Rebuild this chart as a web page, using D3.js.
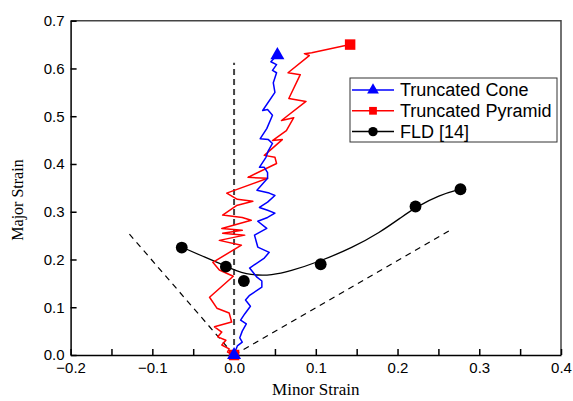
<!DOCTYPE html>
<html>
<head>
<meta charset="utf-8">
<script src="https://cdn.jsdelivr.net/npm/d3@7"></script>
<style>
  body { margin: 0; background: #fff; }
  svg { display: block; }
</style>
</head>
<body>
<svg></svg>
<script>
const width = 573
const height = 401

// minor strain / major strain
const coneMinor = [0, 0.001, 0.002, 0.004, 0.010, 0.007, 0.010, 0.015, 0.008, 0.013, 0.020, 0.014, 0.019,
  0.034, 0.034, 0.028, 0.019, 0.037, 0.043, 0.029, 0.025, 0.040, 0.029, 0.041, 0.050, 0.041, 0.031,
  0.041, 0.050, 0.043, 0.028, 0.041, 0.041, 0.037, 0.031, 0.039, 0.042, 0.047, 0.042, 0.032, 0.040,
  0.047, 0.041, 0.035, 0.050, 0.048, 0.052, 0.047, 0.052, 0.045, 0.053]
const coneMajor = [0, 0.004, 0.010, 0.019, 0.027, 0.036, 0.050, 0.065, 0.073, 0.086, 0.102, 0.115, 0.125,
  0.142, 0.155, 0.163, 0.182, 0.203, 0.215, 0.226, 0.251, 0.265, 0.280, 0.288, 0.297, 0.303, 0.309,
  0.320, 0.334, 0.339, 0.345, 0.370, 0.382, 0.393, 0.393, 0.414, 0.428, 0.443, 0.451, 0.453, 0.474,
  0.502, 0.514, 0.512, 0.550, 0.570, 0.591, 0.596, 0.608, 0.614, 0.628]

const pyramidMinor = [0, -0.008, -0.006, -0.015, -0.010, -0.020, -0.015, -0.024, -0.003, -0.006, -0.021,
  -0.030, -0.001, -0.018, -0.026, 0.009, -0.018, 0.013, -0.014, 0.010, -0.015, 0.021, 0.010, -0.014,
  0.003, 0.023, 0.004, -0.009, 0.041, 0.017, 0.052, 0.050, 0.037, 0.059, 0.047, 0.064, 0.073, 0.058,
  0.088, 0.067, 0.081, 0.066, 0.092, 0.086, 0.095, 0.142]
const pyramidMajor = [0, 0.006, 0.013, 0.021, 0.031, 0.038, 0.048, 0.059, 0.069, 0.088, 0.098, 0.121,
  0.165, 0.178, 0.194, 0.230, 0.240, 0.251, 0.255, 0.261, 0.265, 0.282, 0.288, 0.293, 0.313, 0.322,
  0.326, 0.339, 0.370, 0.372, 0.401, 0.414, 0.418, 0.451, 0.449, 0.470, 0.497, 0.491, 0.531, 0.537,
  0.587, 0.591, 0.627, 0.631, 0.633, 0.650]

const fldMinor = [-0.064, -0.010, 0.012, 0.106, 0.222, 0.277]
const fldMajor = [0.225, 0.185, 0.155, 0.190, 0.311, 0.347]

// fitted FLD curve as drawn
const fitMinor = [-0.064, -0.036, -0.010, 0.003, 0.015, 0.028, 0.045, 0.068, 0.105, 0.145, 0.178, 0.206, 0.222, 0.251, 0.277]
const fitMajor = [0.226, 0.205, 0.186, 0.176, 0.170, 0.167, 0.167, 0.175, 0.196, 0.225, 0.256, 0.290, 0.309, 0.335, 0.347]

// dashed strain paths from the origin: uniaxial, plane strain, equi-biaxial
const guideMinor = [-0.128, 0, 0.266]
const guideMajor = [0.253, 0.612, 0.263]

const xTicks = [-0.2, -0.1, 0.0, 0.1, 0.2, 0.3, 0.4]
const xMinorTicks = [-0.15, -0.05, 0.05, 0.15, 0.25, 0.35]
const yTicks = [0.0, 0.1, 0.2, 0.3, 0.4, 0.5, 0.6, 0.7]
const legendLabels = ['Truncated Cone', 'Truncated Pyramid', 'FLD [14]']

const svg = d3.select('svg').attr('width', width).attr('height', height)

const margin = { top: 20.7, right: 12, bottom: 46, left: 70.6 }
const innerWidth = width - margin.left - margin.right
const innerHeight = height - margin.top - margin.bottom

const xScale = d3.scaleLinear().domain([-0.2, 0.4]).range([0, innerWidth])
const yScale = d3.scaleLinear().domain([0, 0.7]).range([innerHeight, 0])

const g = svg.append('g')
  .attr('transform', `translate(${margin.left},${margin.top})`)

// frame top and right
g.append('path')
  .attr('d', `M0,0H${innerWidth}V${innerHeight}`)
  .attr('fill', 'none')
  .attr('stroke', '#444')
  .attr('stroke-width', 1.5)

const xAxis = d3.axisBottom(xScale).tickValues(xTicks)
  .tickSizeInner(-6).tickSizeOuter(0).tickPadding(7)
  .tickFormat(d3.format('.1f'))
const xMinor = d3.axisBottom(xScale).tickValues(xMinorTicks)
  .tickSizeInner(-6).tickSizeOuter(0).tickFormat('')
const yAxis = d3.axisLeft(yScale).tickValues(yTicks)
  .tickSizeInner(-6).tickSizeOuter(0).tickPadding(6)
  .tickFormat(d3.format('.1f'))

g.append('g').attr('transform', `translate(0,${innerHeight})`).call(xAxis)
g.append('g').attr('transform', `translate(0,${innerHeight})`).call(xMinor)
  .select('.domain').remove()
g.append('g').call(yAxis)

g.selectAll('.domain, .tick line').attr('stroke', '#000').attr('stroke-width', 1.5)
g.selectAll('.tick text')
  .attr('font-family', '"Liberation Sans", Arial, sans-serif')
  .attr('font-size', 15)
  .attr('fill', '#000')

// axis titles
svg.append('text')
  .attr('x', margin.left + innerWidth / 2)
  .attr('y', 395)
  .attr('text-anchor', 'middle')
  .attr('font-family', '"Liberation Serif", "Times New Roman", serif')
  .attr('font-size', 17)
  .text('Minor Strain')

svg.append('text')
  .attr('transform', 'translate(23,200) rotate(-90)')
  .attr('text-anchor', 'middle')
  .attr('font-family', '"Liberation Serif", "Times New Roman", serif')
  .attr('font-size', 16)
  .text('Major Strain')

// dashed guide lines
const guides = guideMinor.map((d, i) => ({ x: d, y: guideMajor[i] }))
g.selectAll('.guide')
  .data(guides)
  .enter().append('line')
    .attr('class', 'guide')
    .attr('x1', xScale(0))
    .attr('y1', yScale(0))
    .attr('x2', d => xScale(d.x))
    .attr('y2', d => yScale(d.y))
    .attr('stroke', (d, i) => i === 1 ? '#444' : '#000')
    .attr('stroke-width', (d, i) => i === 1 ? 2 : 1.2)
    .attr('stroke-dasharray', (d, i) => i === 1 ? '6,4' : '6,5')

const line = d3.line().x(d => xScale(d[0])).y(d => yScale(d[1]))

const cone = d3.zip(coneMinor, coneMajor)
const pyramid = d3.zip(pyramidMinor, pyramidMajor)
const fit = d3.zip(fitMinor, fitMajor)
const fld = d3.zip(fldMinor, fldMajor)

g.append('path')
  .attr('d', line.curve(d3.curveBasis)(fit))
  .attr('fill', 'none')
  .attr('stroke', '#000')
  .attr('stroke-width', 1.3)

line.curve(d3.curveLinear)

g.append('path')
  .attr('d', line(pyramid))
  .attr('fill', 'none')
  .attr('stroke', '#ff0000')
  .attr('stroke-width', 1.5)
  .attr('stroke-linejoin', 'round')

g.append('path')
  .attr('d', line(cone))
  .attr('fill', 'none')
  .attr('stroke', '#0000ff')
  .attr('stroke-width', 1.5)
  .attr('stroke-linejoin', 'round')

const triangle = d3.symbol().type(d3.symbolTriangle)
const square = d3.symbol().type(d3.symbolSquare)
const circle = d3.symbol().type(d3.symbolCircle)

// start / end markers
const ends = arr => [arr[0], arr[arr.length - 1]]

g.selectAll('.sq')
  .data(ends(pyramid))
  .enter().append('path')
    .attr('class', 'sq')
    .attr('transform', d => `translate(${xScale(d[0])},${yScale(d[1])})`)
    .attr('d', square.size(110))
    .attr('fill', '#ff0000')

g.selectAll('.tri')
  .data(ends(cone))
  .enter().append('path')
    .attr('class', 'tri')
    .attr('transform', d => `translate(${xScale(d[0])},${yScale(d[1])})`)
    .attr('d', triangle.size(85))
    .attr('fill', '#0000ff')

g.selectAll('.dot')
  .data(fld)
  .enter().append('path')
    .attr('class', 'dot')
    .attr('transform', d => `translate(${xScale(d[0])},${yScale(d[1])})`)
    .attr('d', circle.size(110))
    .attr('fill', '#000')

// legend
const legend = svg.append('g').attr('transform', 'translate(350,78)')
legend.append('rect')
  .attr('width', 207).attr('height', 64)
  .attr('fill', '#fff')
  .attr('stroke', '#333')
  .attr('stroke-width', 1)

const legendColors = ['#0000ff', '#ff0000', '#000']
const legendSymbols = [triangle.size(60)(), square.size(60)(), circle.size(70)()]

const rows = legend.selectAll('.row')
  .data(legendLabels)
  .enter().append('g')
    .attr('class', 'row')
    .attr('transform', (d, i) => `translate(0,${12 + i * 20.8})`)

rows.append('line')
  .attr('x1', 2).attr('x2', 44)
  .attr('stroke', (d, i) => legendColors[i])
  .attr('stroke-width', 1.5)
rows.append('path')
  .attr('transform', 'translate(23,0)')
  .attr('d', (d, i) => legendSymbols[i])
  .attr('fill', (d, i) => legendColors[i])
rows.append('text')
  .attr('x', 50)
  .attr('dy', '0.35em')
  .attr('font-family', '"Liberation Sans", Arial, sans-serif')
  .attr('font-size', 18)
  .text(d => d)
</script>
</body>
</html>
